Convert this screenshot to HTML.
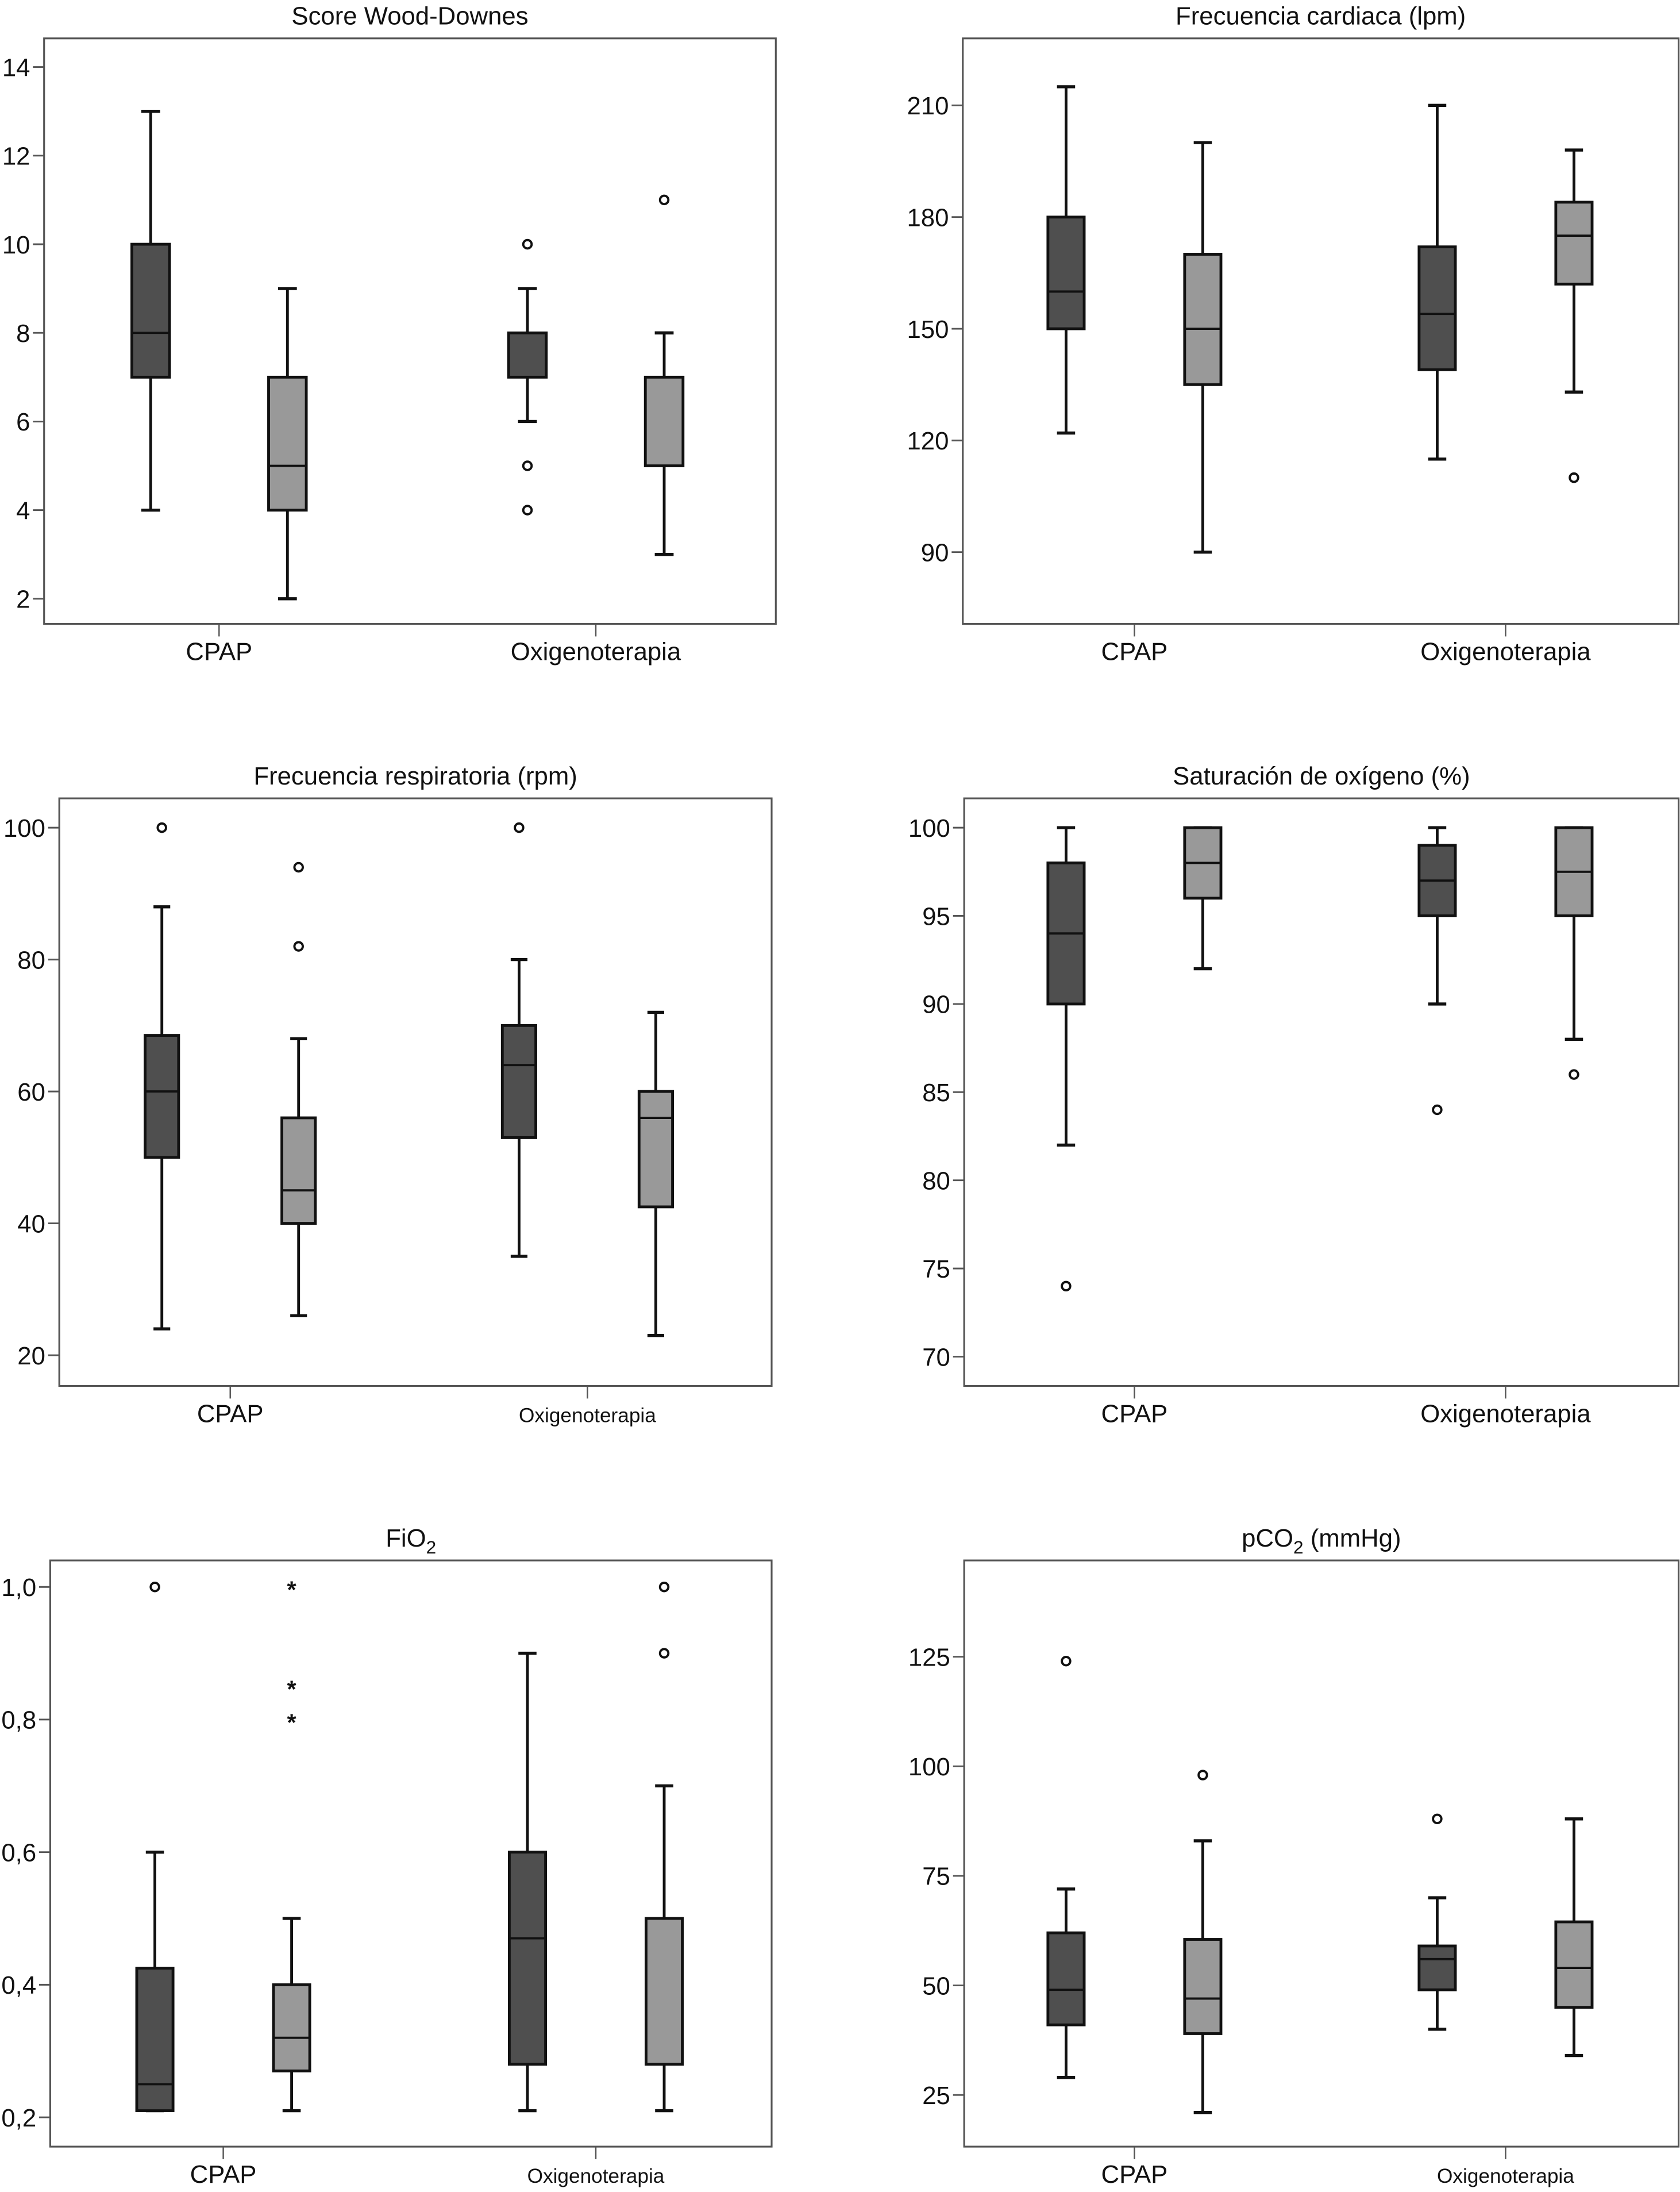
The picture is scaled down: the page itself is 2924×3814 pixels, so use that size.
<!DOCTYPE html>
<html><head><meta charset="utf-8"><style>
html,body{margin:0;padding:0;background:#fff}
svg{display:block}
text{font-family:"Liberation Sans",sans-serif;fill:#111}
</style></head><body>
<svg id="chart" width="2924" height="3814" viewBox="0 0 1204 1570.5" preserveAspectRatio="none" xmlns="http://www.w3.org/2000/svg"></svg>
<script>
// ---- data ----
const categories = ["CPAP", "Oxigenoterapia"];
const titles = ["Score Wood-Downes", "Frecuencia cardiaca (lpm)", "Frecuencia respiratoria (rpm)", "Saturación de oxígeno (%)", "FiO2", "pCO2 (mmHg)"];
const tickLabels1 = [2,4,6,8,10,12,14];
const tickLabels2 = [90,120,150,180,210];
const tickLabels3 = [20,40,60,80,100];
const tickLabels4 = [70,75,80,85,90,95,100];
const tickLabels5 = [0.2,0.4,0.6,0.8,1.0];
const tickLabels6 = [25,50,75,100,125];
// each box: [min, q1, median, q3, max]
const stats1 = [[4,7,8,10,13],[2,4,5,7,9],[6,7,7,8,9],[3,5,5,7,8]];
const outl1 = [[],[],[10,5,4],[11]];
const stars1 = [[],[],[],[]];
const stats2 = [[122,150,160,180,215],[90,135,150,170,200],[115,139,154,172,210],[133,162,175,184,198]];
const outl2 = [[],[],[],[110]];
const stars2 = [[],[],[],[]];
const stats3 = [[24,50,60,68.5,88],[26,40,45,56,68],[35,53,64,70,80],[23,42.5,56,60,72]];
const outl3 = [[100],[82,94],[100],[]];
const stars3 = [[],[],[],[]];
const stats4 = [[82,90,94,98,100],[92,96,98,100,100],[90,95,97,99,100],[88,95,97.5,100,100]];
const outl4 = [[74],[],[84],[86]];
const stars4 = [[],[],[],[]];
const stats5 = [[0.21,0.21,0.25,0.425,0.6],[0.21,0.27,0.32,0.40,0.5],[0.21,0.28,0.47,0.60,0.9],[0.21,0.28,0.28,0.5,0.7]];
const outl5 = [[1.0],[],[],[1.0,0.9]];
const stars5 = [[],[1.0,0.85,0.8],[],[]];
const stats6 = [[29,41,49,62,72],[21,39,47,60.5,83],[40,49,56,59,70],[34,45,54,64.5,88]];
const outl6 = [[124],[98],[88],[]];
const stars6 = [[],[],[],[]];

const NS="http://www.w3.org/2000/svg";
const svg=document.getElementById('chart');
function mk(tag,attrs,parent){const e=document.createElementNS(NS,tag);for(const k in attrs)e.setAttribute(k,attrs[k]);(parent||svg).appendChild(e);return e;}

const panels=[
 {f:[31.6,27.5,556,447],t:tickLabels1,tv:[2,429,14,48],cx:[157,427],bw:27,stats:stats1,o:outl1,s:stars1,lab:[17,17],dec:false},
 {f:[690,27.5,1203,447],t:tickLabels2,tv:[90,395.6,210,75.5],cx:[813,1079],bw:26,stats:stats2,o:outl2,s:stars2,lab:[17,17],dec:false},
 {f:[42.5,572,553,993],t:tickLabels3,tv:[20,971,100,593],cx:[165,421],bw:24,stats:stats3,o:outl3,s:stars3,lab:[17,13.5],dec:false},
 {f:[691,572,1203,993],t:tickLabels4,tv:[70,972,100,593],cx:[813,1079],bw:26,stats:stats4,o:outl4,s:stars4,lab:[17,17],dec:false},
 {f:[36,1118,553,1538],t:tickLabels5,tv:[0.2,1517,1.0,1137],cx:[160,427],bw:26,stats:stats5,o:outl5,s:stars5,lab:[17,13.5],dec:true},
 {f:[691,1118,1203,1538],t:tickLabels6,tv:[25,1501,125,1187],cx:[813,1079],bw:26,stats:stats6,o:outl6,s:stars6,lab:[17,13.5],dec:false}
];
const colors=["#4f4f4f","#999999"];

panels.forEach((p,pi)=>{
  const g=mk('g',{});
  
  
  const [x0,y0,x1,y1]=p.f;
  const y=v=>p.tv[1]+(v-p.tv[0])*(p.tv[3]-p.tv[1])/(p.tv[2]-p.tv[0]);
  const fr=mk('rect',{x:x0,y:y0,width:x1-x0,height:y1-y0,fill:'#fff',stroke:'#555','stroke-width':1.3},g);
  
  
  const tt=mk('text',{x:(x0+x1)/2,y:y0-10,'text-anchor':'middle','font-size':18},g);
  
  
  const title=titles[pi];
  if(title.indexOf('O2')>=0){
    const i=title.indexOf('O2');
    tt.appendChild(document.createTextNode(title.slice(0,i+1)));
    const sub=mk('tspan',{dy:5,'font-size':13},tt);sub.textContent='2';
    const rest=mk('tspan',{dy:-5},tt);rest.textContent=title.slice(i+2);
  } else tt.textContent=title;
  p.t.forEach(v=>{
    const yy=y(v);
    const l=mk('line',{x1:x0-8,x2:x0,y1:yy,y2:yy,stroke:'#555','stroke-width':1.2},g);
    
    
    const tx=mk('text',{x:x0-10,y:yy+6.5,'text-anchor':'end','font-size':18},g);
    
    
    tx.textContent=p.dec?v.toFixed(1).replace('.',','):v;
  });
  categories.forEach((c,ci)=>{
    const cx=p.cx[ci];
    const l=mk('line',{x1:cx,x2:cx,y1:y1,y2:y1+9,stroke:'#555','stroke-width':1},g);
    
    
    const tx=mk('text',{x:cx,y:y1+26,'text-anchor':'middle','font-size':p.lab[ci]+1},g);
    
    
    tx.textContent=c;
  });
  p.stats.forEach((s,bi)=>{
    const cx=p.cx[bi>>1]+(bi%2===0?-49:49);
    const hw=p.bw/2;
    const w=mk('line',{x1:cx,x2:cx,y1:y(s[0]),y2:y(s[4]),stroke:'#111','stroke-width':2},g);
    
    
    [s[0],s[4]].forEach(v=>{
      const c=mk('line',{x1:cx-hw/2,x2:cx+hw/2,y1:y(v),y2:y(v),stroke:'#111','stroke-width':2.2},g);
      
      
    });
    const b=mk('rect',{x:cx-hw,y:y(s[3]),width:p.bw,height:y(s[1])-y(s[3]),fill:colors[bi%2],stroke:'#111','stroke-width':2},g);
    
    
    const m=mk('line',{x1:cx-hw,x2:cx+hw,y1:y(s[2]),y2:y(s[2]),stroke:'#111','stroke-width':1.6},g);
    
    
    p.o[bi].forEach(v=>{
      const o=mk('circle',{cx:cx,cy:y(v),r:3,fill:'#fff',stroke:'#111','stroke-width':1.6},g);
      
      
    });
    p.s[bi].forEach(v=>{
      const st=mk('text',{x:cx,y:y(v)+8,'text-anchor':'middle','font-size':17,'font-weight':'bold'},g);
      
      
      st.textContent='*';
    });
  });
});
</script>
</body></html>
